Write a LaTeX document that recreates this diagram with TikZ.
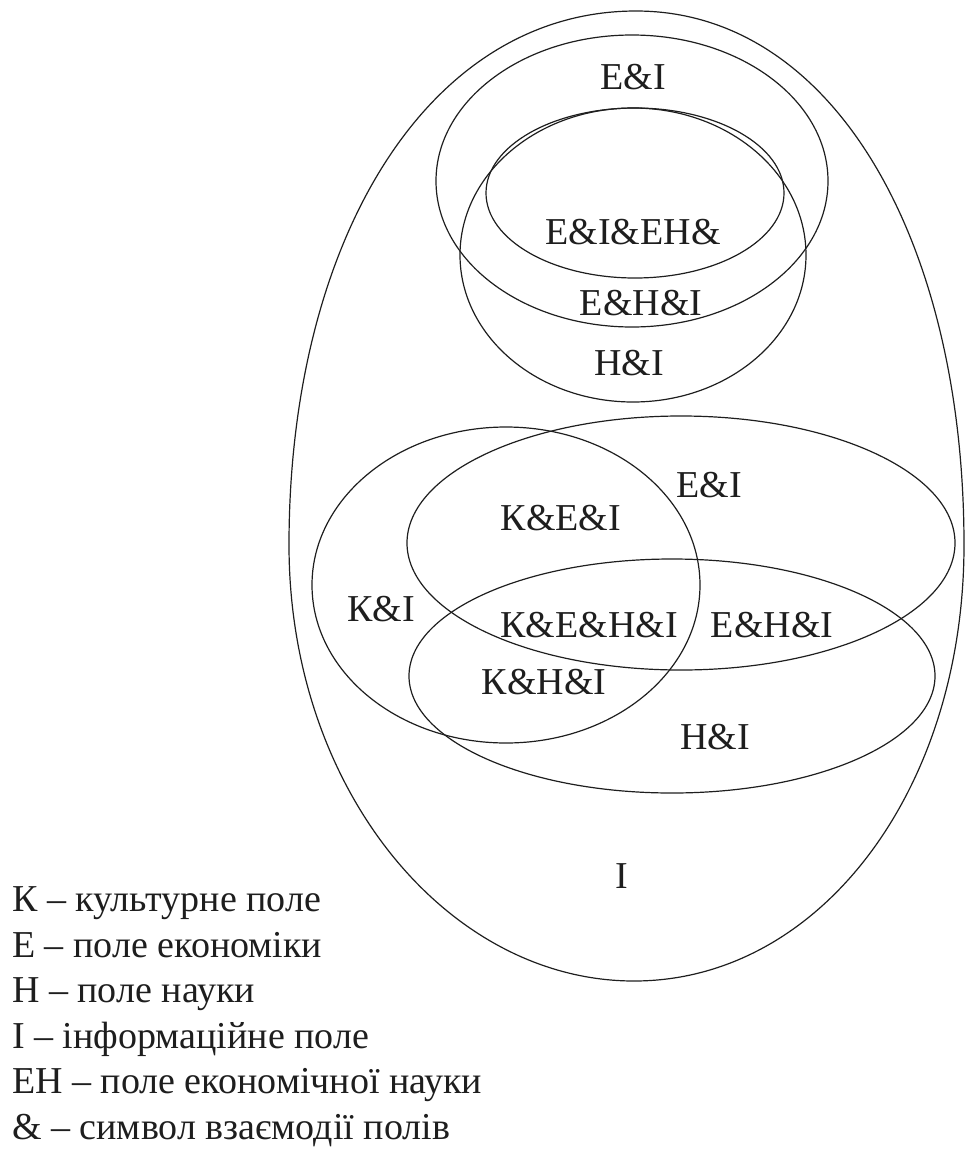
\documentclass[tikz,border=0pt]{standalone}
\usepackage{fontspec}
\setmainfont{Liberation Serif}
\usepackage{tikz}
\usetikzlibrary{positioning}
\definecolor{fieldInk}{HTML}{1E1E1E}
\tikzset{
  field/line/.style={draw=fieldInk, line width=1.2pt},
  field/label/.style={font=\fontsize{38}{45.6}\selectfont, text=fieldInk,
    inner sep=0pt, anchor=center},
  field/legend/.style={font=\fontsize{38}{45.6}\selectfont, text=fieldInk,
    inner sep=0pt, anchor=base west},
}

\begin{document}
\begin{tikzpicture}[x=1pt, y=-1pt]
\useasboundingbox (0,0) rectangle (965,1165);

% information field I: egg-shaped outline
\draw[field/line] (636,11) .. controls (833,11) and (964,240) .. (964,545)
  .. controls (964,790) and (820,981) .. (634,981)
  .. controls (448,981) and (289,790) .. (289,545)
  .. controls (289,240) and (428,11) .. (636,11);

% upper group: economics, economic science, science
\draw[field/line] (632,181) ellipse [x radius=196pt, y radius=146pt];
\draw[field/line] (635,193) ellipse [x radius=149pt, y radius=85pt];
\draw[field/line] (633,255) ellipse [x radius=173pt, y radius=147pt];

% lower group: culture, economics, science
\draw[field/line] (506,585) ellipse [x radius=194pt, y radius=158pt];
\draw[field/line] (681,543) ellipse [x radius=274pt, y radius=127pt];
\draw[field/line] (672,676) ellipse [x radius=263pt, y radius=117pt];

% region labels
\node[field/label] (eiTop)   at (633,77)  {Е\&І};
\node[field/label] (eieh)    at (633,232) {Е\&І\&ЕН\&};
\node[field/label] (ehiTop)  at (641,303) {Е\&Н\&І};
\node[field/label] (hiTop)   at (629,363) {Н\&І};
\node[field/label] (eiLow)   at (709,485) {Е\&І};
\node[field/label] (kei)     at (561,518) {К\&Е\&І};
\node[field/label] (ki)      at (381,609) {К\&І};
\node[field/label] (kehi)    at (589,625) {К\&Е\&Н\&І};
\node[field/label] (ehiLow)  at (772,625) {Е\&Н\&І};
\node[field/label] (khi)     at (544,682) {К\&Н\&І};
\node[field/label] (hiLow)   at (715,737) {Н\&І};
\node[field/label] (iOnly)   at (622,876) {І};

% legend
\node[field/legend] (legK)  at (12,911)  {К – культурне поле};
\node[field/legend] (legE)  at (12,957)  {Е – поле економіки};
\node[field/legend] (legH)  at (12,1002) {Н – поле науки};
\node[field/legend] (legI)  at (12,1048) {І – інформаційне поле};
\node[field/legend] (legEH) at (12,1093) {ЕН – поле економічної науки};
\node[field/legend] (legA)  at (12,1139) {\& – символ взаємодії полів};
\end{tikzpicture}
\end{document}
